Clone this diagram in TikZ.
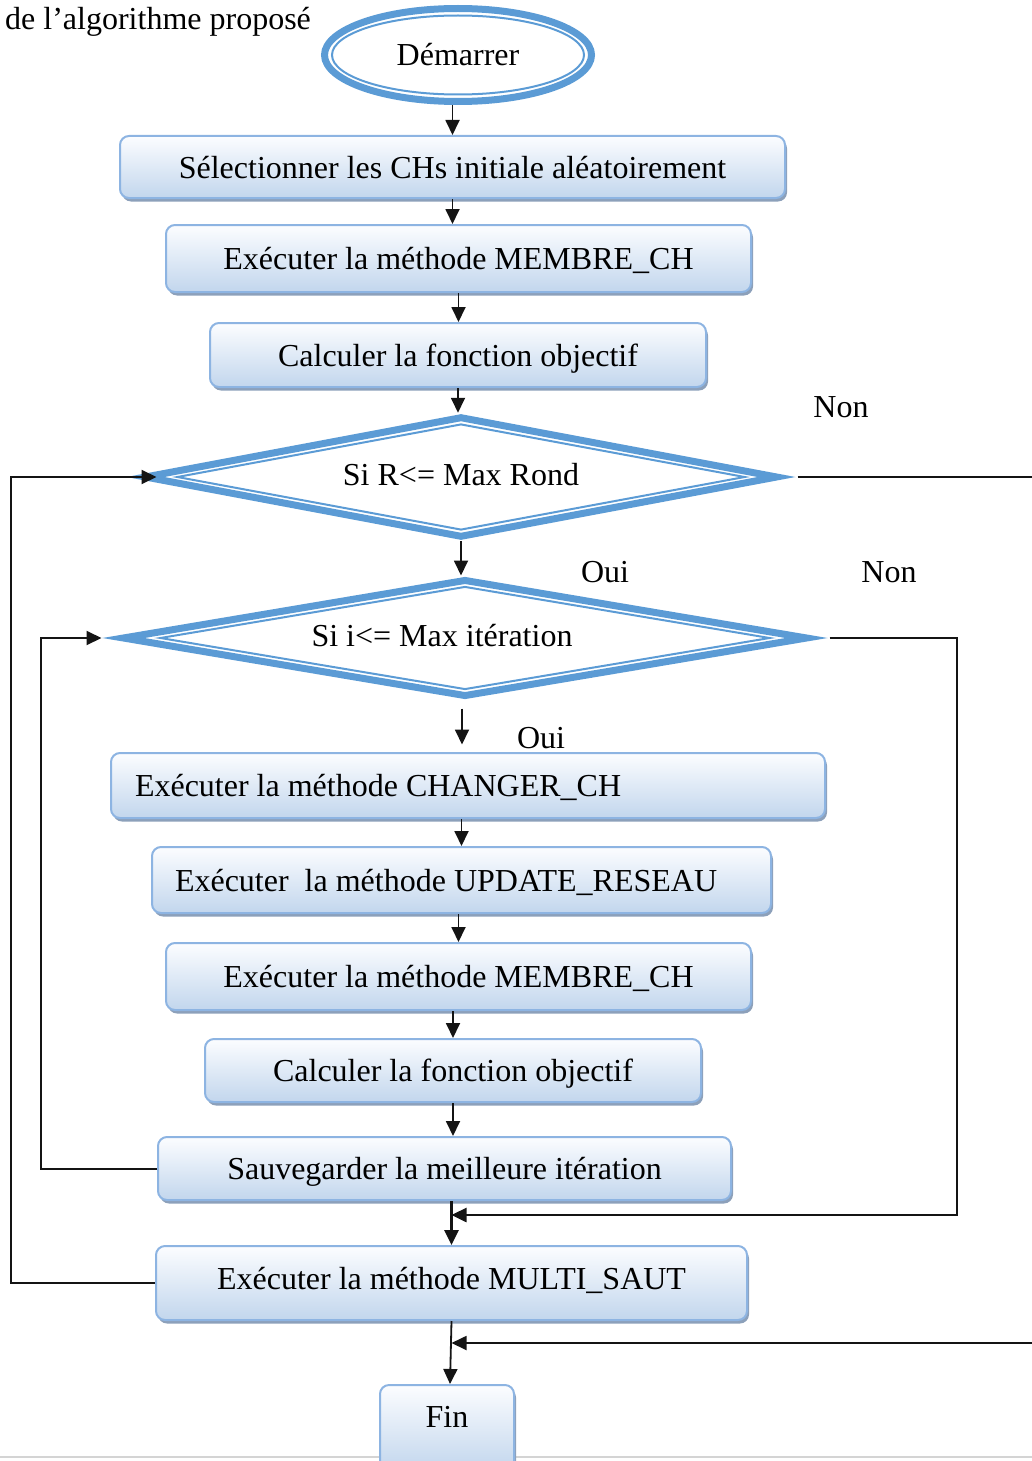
\documentclass[tikz,border=0pt]{standalone}
\usepackage{fontspec}
\setmainfont{Liberation Serif}
\usetikzlibrary{arrows.meta,shapes.geometric,shadows}
\definecolor{flowblue}{RGB}{91,155,213}
\definecolor{boxedge}{RGB}{141,180,226}
\definecolor{boxtop}{RGB}{252,253,255}
\definecolor{boxbot}{RGB}{194,214,237}
\definecolor{boxshadow}{RGB}{140,160,186}
\definecolor{pagerule}{RGB}{212,212,212}
\definecolor{wirecol}{RGB}{20,20,20}

\begin{document}
\begin{tikzpicture}[x=1pt,y=-1pt,
  font=\fontsize{32pt}{38pt}\selectfont,
  procbox/.style={rectangle, rounded corners=9pt, draw=boxedge, line width=2pt,
    top color=boxtop, bottom color=boxbot,
    drop shadow={shadow xshift=2pt, shadow yshift=-3.5pt, fill=boxshadow, opacity=1},
    inner sep=0pt, text height=22pt, text depth=0pt},
  outerdiamond/.style={diamond, draw=flowblue, line width=7pt, inner sep=0pt},
  innerdiamond/.style={diamond, draw=flowblue, line width=2pt, inner sep=0pt},
  arr/.style={draw=wirecol, -{Triangle[length=15pt,width=14pt]}, line width=1.8pt},
  tag/.style={inner sep=0pt}
]
\useasboundingbox (0,0) rectangle (1032,1461);

% page rule along the bottom edge
\draw[pagerule, line width=2pt] (0,1457) -- (1032,1457);

\node[tag, anchor=base west] (caption) at (5,29.5) {de l’algorithme proposé};

% start terminal
\node[ellipse, draw=flowblue, line width=7pt, minimum width=267pt, minimum height=93pt, inner sep=0pt] (start) at (458,55) {};
\node[ellipse, draw=flowblue, line width=2pt, minimum width=252pt, minimum height=79pt, inner sep=0pt] (startin) at (458,55) {Démarrer};

% initialisation
\node[procbox, minimum width=665pt, minimum height=62pt] (b1) at (452.5,167) {Sélectionner les CHs initiale aléatoirement};
\node[procbox, minimum width=585pt, minimum height=67pt] (b2) at (458.5,258.5) {Exécuter la méthode MEMBRE\_CH};
\node[procbox, minimum width=496pt, minimum height=64pt] (b3) at (458,355) {Calculer la fonction objectif};

% decisions
\node[outerdiamond, minimum width=634pt, minimum height=121.5pt] (d1) at (461,477) {};
\node[innerdiamond, minimum width=568pt, minimum height=106pt] (d1in) at (461,477) {};
\node[tag] (d1t) at (461,475) {Si R<= Max Rond};
\node[outerdiamond, minimum width=686pt, minimum height=118pt] (d2) at (465,638) {};
\node[innerdiamond, minimum width=610pt, minimum height=103pt] (d2in) at (465,638) {};
\node[tag] (d2t) at (442,636) {Si i<= Max itération};

% inner loop body
\node[procbox, minimum width=714pt, minimum height=65pt, inner xsep=24pt, text width=666pt, align=flush left] (b4) at (468,785.5) {Exécuter la méthode CHANGER\_CH};
\node[procbox, minimum width=619pt, minimum height=66pt, inner xsep=23pt, text width=573pt, align=flush left] (b5) at (461.5,880) {Exécuter\ \ la méthode UPDATE\_RESEAU};
\node[procbox, minimum width=585pt, minimum height=67pt] (b6) at (458.5,976.5) {Exécuter la méthode MEMBRE\_CH};
\node[procbox, minimum width=496pt, minimum height=63pt] (b7) at (453,1070.5) {Calculer la fonction objectif};
\node[procbox, minimum width=573pt, minimum height=63pt] (b8) at (444.5,1168.5) {Sauvegarder la meilleure itération};
\node[procbox, minimum width=591pt, minimum height=74pt, text depth=10pt] (b9) at (451.5,1283) {Exécuter la méthode MULTI\_SAUT};
\node[procbox, minimum width=134pt, text height=42pt, text depth=44pt, anchor=north] (fin) at (447,1384) {Fin};

% branch labels
\node[tag] (non1) at (841,407) {Non};
\node[tag] (oui1) at (605,572) {Oui};
\node[tag] (non2) at (889,572) {Non};
\node[tag] (oui2) at (541,738) {Oui};

% routing points
\coordinate (rloop) at (957,1215);
\coordinate (farright) at (1040,1343);
\coordinate (lloop) at (41,0);
\coordinate (llloop) at (11,0);

% main flow
\draw[arr] (start.south -| b1.north) -- (b1.north);
\draw[arr] (b1.south) -- (b1.south |- b2.north);
\draw[arr] (b2.south) -- (b2.south |- b3.north);
\draw[arr] (b3.south) -- (b3.south |- d1.north);
\draw[arr] (d1.south) -- (d1.south |- d2.north);
\draw[arr] ([xshift=-3pt,yshift=-8pt]d2.south) -- ([xshift=-3pt,yshift=-44pt]d2.south);
\draw[arr] (b4.south -| b5.north) -- (b5.north);
\draw[arr] (b5.south -| b6.north) -- (b6.north);
\draw[arr] (b6.south -| b7.north) -- (b7.north);
\draw[arr] (b7.south) -- (b7.south |- b8.north);
\draw[arr, line width=3pt] (b8.south -| b9.north) -- (b9.north);
\draw[arr] (b9.south) -- ([xshift=3pt]fin.north);

% exits on "Non"
\draw[arr, line width=2.5pt] ([xshift=18pt]d2.east) -- (d2.east -| rloop) -- (rloop) -- (rloop -| b9.north);
\draw[arr] ([xshift=16pt]d1.east) -- (d1.east -| farright) -- (farright) -- (farright -| b9.south);

% loop backs
\draw[arr, line width=2pt] (b8.west) -- (b8.west -| lloop) |- ([xshift=-17pt]d2.west);
\draw[arr, line width=2pt] (b9.west) -- (b9.west -| llloop) |- ([xshift=16pt]d1.west);
\end{tikzpicture}
\end{document}
